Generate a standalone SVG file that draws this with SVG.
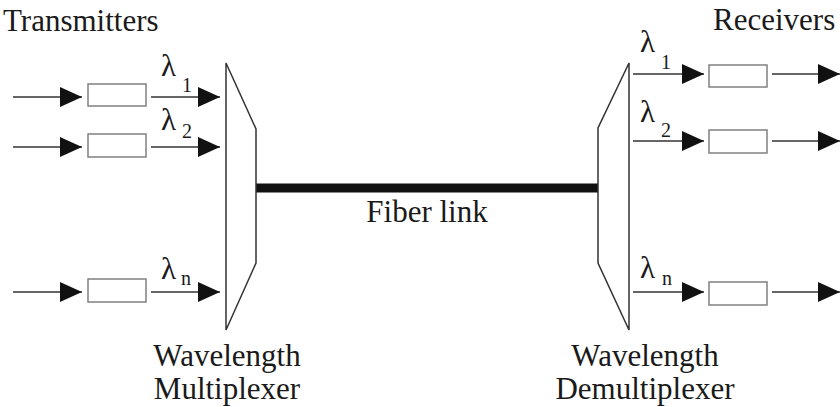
<svg xmlns="http://www.w3.org/2000/svg" width="840" height="407" viewBox="0 0 840 407">
<style>
text{fill:#1a1a1a}
.t{font-size:31px}
.l{font-size:31px}
.s{font-size:20px}
.box{fill:#fff;stroke:#808080;stroke-width:1.5}
.ln{stroke:#333;stroke-width:1.4;fill:none}
.dev{fill:#fff;stroke:#333;stroke-width:1.5}
</style>
<defs>
<marker id="ah" markerUnits="userSpaceOnUse" markerWidth="22" markerHeight="20" refX="22" refY="10" orient="auto">
<path d="M0,0 L22,10 L0,20 z" fill="#111"/>
</marker>
</defs>
<g id="titles" font-family="Times New Roman, Liberation Serif, serif">
<text class="t" x="3" y="31">Transmitters</text>
<text class="t" x="713" y="30">Receivers</text>
</g>
<g id="connectors">
<line class="ln" x1="13" y1="97" x2="82" y2="97" marker-end="url(#ah)"/>
<line class="ln" x1="151" y1="97" x2="220" y2="97" marker-end="url(#ah)"/>
<line class="ln" x1="13" y1="147" x2="82" y2="147" marker-end="url(#ah)"/>
<line class="ln" x1="151" y1="147" x2="220" y2="147" marker-end="url(#ah)"/>
<line class="ln" x1="13" y1="292" x2="82" y2="292" marker-end="url(#ah)"/>
<line class="ln" x1="151" y1="292" x2="220" y2="292" marker-end="url(#ah)"/>
<line class="ln" x1="633" y1="74" x2="704" y2="74" marker-end="url(#ah)"/>
<line class="ln" x1="772" y1="74" x2="840" y2="74" marker-end="url(#ah)"/>
<line class="ln" x1="633" y1="141" x2="704" y2="141" marker-end="url(#ah)"/>
<line class="ln" x1="772" y1="141" x2="840" y2="141" marker-end="url(#ah)"/>
<line class="ln" x1="633" y1="292" x2="704" y2="292" marker-end="url(#ah)"/>
<line class="ln" x1="772" y1="292" x2="840" y2="292" marker-end="url(#ah)"/>
<line id="fiber" x1="256" y1="188" x2="598" y2="188" stroke="#111" stroke-width="9"/>
</g>
<g id="tx1"><rect class="box" x="88" y="84" width="58" height="22"/></g>
<g id="tx2"><rect class="box" x="88" y="134" width="58" height="23"/></g>
<g id="txn"><rect class="box" x="88" y="279" width="58" height="23"/></g>
<g id="rx1"><rect class="box" x="709" y="65" width="58" height="22"/></g>
<g id="rx2"><rect class="box" x="709" y="130" width="58" height="23"/></g>
<g id="rxn"><rect class="box" x="709" y="282" width="58" height="23"/></g>
<g id="mux"><polygon class="dev" points="226,63 256,129 256,263 226,330"/></g>
<g id="demux"><polygon class="dev" points="629,63 598,128 598,263 629,330"/></g>
<g id="labels" font-family="Times New Roman, Liberation Serif, serif">
<text class="l" x="161" y="76">λ</text><text class="s" x="182" y="92">1</text>
<text class="l" x="161" y="130">λ</text><text class="s" x="182" y="138">2</text>
<text class="l" x="161" y="279">λ</text><text class="s" x="181" y="285">n</text>
<text class="l" x="640" y="52">λ</text><text class="s" x="661" y="69">1</text>
<text class="l" x="640" y="122">λ</text><text class="s" x="661" y="137">2</text>
<text class="l" x="640" y="278">λ</text><text class="s" x="662" y="285">n</text>
<text class="t" x="427" y="222" text-anchor="middle">Fiber link</text>
<text class="t" x="227" y="366" text-anchor="middle">Wavelength</text>
<text class="t" x="227" y="399" text-anchor="middle">Multiplexer</text>
<text class="t" x="645" y="366" text-anchor="middle">Wavelength</text>
<text class="t" x="645" y="399" text-anchor="middle">Demultiplexer</text>
</g>
</svg>
